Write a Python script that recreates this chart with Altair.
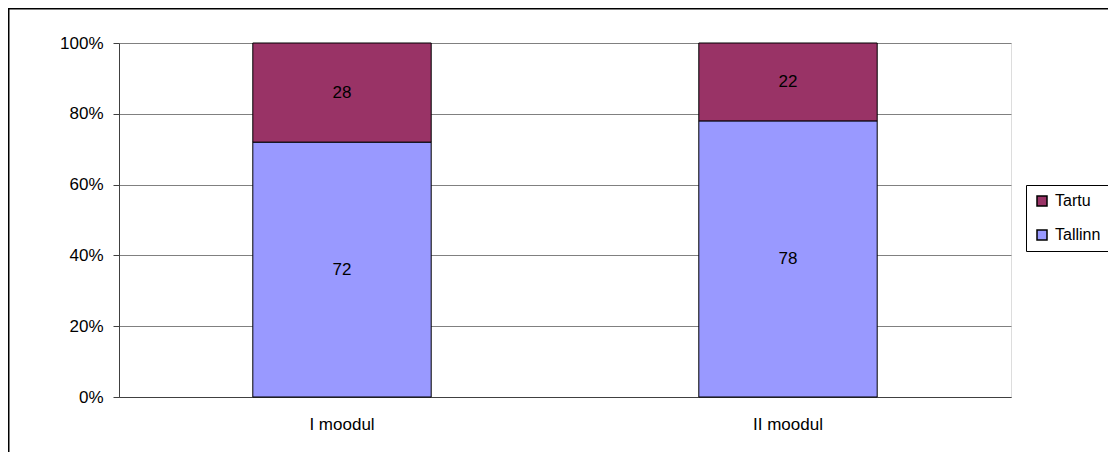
import altair as alt
import pandas as pd

categories = ["I moodul", "II moodul"]
cities = ["Tartu", "Tallinn"]
tallinn = [72, 78]
tartu = [28, 22]
colors = ["#993366", "#9999FF"]

rows = []
for i, c in enumerate(categories):
    rows.append({"module": c, "city": "Tallinn", "value": tallinn[i], "ord": 0})
    rows.append({"module": c, "city": "Tartu", "value": tartu[i], "ord": 1})
df = pd.DataFrame(rows)

FONT = "Liberation Sans"
FS = 17
W, H = 892, 354

x_enc = alt.X("module:N", sort=categories, title=None,
              scale=alt.Scale(paddingInner=0, paddingOuter=0),
              axis=alt.Axis(labelAngle=0, ticks=False, labelPadding=19, domainColor="#404040",
                            labelFont=FONT, labelFontSize=FS, labelColor="black"))

bars = alt.Chart(df).mark_bar(width={"band": 0.4}, stroke="black", strokeWidth=1).encode(
    x=x_enc,
    y=alt.Y("value:Q", stack="normalize", title=None,
            scale=alt.Scale(domain=[0, 1]),
            axis=alt.Axis(format=".0%", values=[0, 0.2, 0.4, 0.6, 0.8, 1.0],
                          gridColor="#808080", gridWidth=1, domainColor="#404040",
                          tickColor="#404040", tickSize=6, labelPadding=10,
                          labelFont=FONT, labelFontSize=FS, labelColor="black")),
    color=alt.Color("city:N", scale=alt.Scale(domain=cities, range=colors),
                    legend=alt.Legend(title=None, orient="none", legendX=907, legendY=142,
                                      symbolType="square", symbolSize=100,
                                      symbolStrokeColor="black", symbolStrokeWidth=1.5,
                                      labelFont=FONT, labelFontSize=16, labelColor="black",
                                      labelOffset=5,
                                      strokeColor="black", padding=8, rowPadding=18,
                                      fillColor="white")),
    order=alt.Order("ord:Q"),
)

labels = alt.Chart(df).transform_stack(
    stack="value", groupby=["module"], as_=["v0", "v1"], offset="normalize",
    sort=[alt.SortField("ord")]
).transform_calculate(mid="(datum.v0 + datum.v1) / 2").mark_text(
    font=FONT, fontSize=FS, color="black"
).encode(
    x=alt.X("module:N", sort=categories),
    y=alt.Y("mid:Q"),
    text=alt.Text("value:Q"),
)

border = alt.Chart(pd.DataFrame({"k": [0]})).mark_rule(color="black", strokeWidth=2).encode(
    x=alt.value(-110.5), x2=alt.value(1200), y=alt.value(-34.5)
) + alt.Chart(pd.DataFrame({"k": [0]})).mark_rule(color="black", strokeWidth=2).encode(
    x=alt.value(-110.5), y=alt.value(-35), y2=alt.value(500)
)

chart = alt.layer(bars, labels, border).properties(
    width=W, height=H,
    autosize=alt.AutoSizeParams(type="none"),
    padding={"left": 111, "top": 35, "right": 97, "bottom": 55},
).configure_view(stroke="#808080", strokeWidth=1).configure(background="white")

chart.save("out.html", embed_options={"renderer": "svg", "actions": False})
